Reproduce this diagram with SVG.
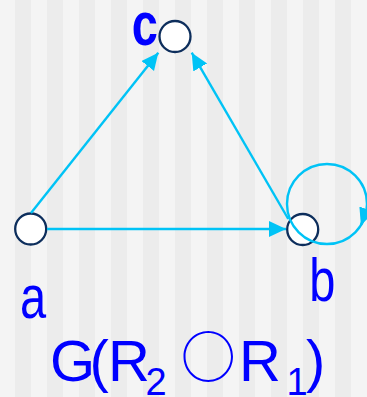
<svg xmlns="http://www.w3.org/2000/svg" width="367" height="397" viewBox="0 0 367 397">
<defs>
<pattern id="stripes" x="15" y="0" width="32" height="397" patternUnits="userSpaceOnUse">
<rect x="0" y="0" width="16" height="397" fill="#ececec"/>
</pattern>
<marker id="arr" markerUnits="userSpaceOnUse" markerWidth="18" markerHeight="17" refX="17" refY="8" orient="auto">
<path d="M0,0 L17,8 L0,16 Z" fill="#00c3f6"/>
</marker>
<style>
.node{fill:#ffffff;stroke:#0d2e5c;stroke-width:2.3}
.edge{fill:none;stroke:#00c3f6;stroke-width:2.4}
.lbl{font-family:"Liberation Sans",Arial,sans-serif;font-size:47px;fill:#0000ff}
.title{font-family:"Liberation Sans",Arial,sans-serif;font-size:58px;fill:#0000ff}
.sub{font-size:38px}
.op{font-family:"Noto Sans CJK JP","Noto Sans CJK SC",sans-serif;font-size:55px;fill:#0000ff}
</style>
</defs>
<rect x="0" y="0" width="367" height="397" fill="#f4f4f4"/>
<rect x="0" y="0" width="367" height="397" fill="url(#stripes)"/>
<g id="node-a"><circle class="node" cx="30.7" cy="229" r="15.5"/></g>
<g id="node-b"><circle class="node" cx="302.7" cy="229.5" r="15.5"/></g>
<g id="node-c"><circle class="node" cx="175" cy="36.5" r="15.5"/></g>
<g id="connectors">
<line class="edge" x1="47" y1="229" x2="286" y2="229" marker-end="url(#arr)"/>
<line class="edge" x1="31" y1="213" x2="158.3" y2="52.7" marker-end="url(#arr)"/>
<line class="edge" x1="288.3" y1="219" x2="191.7" y2="52.7" marker-end="url(#arr)"/>
<circle class="edge" cx="327" cy="204" r="40"/>
<path class="edge" d="M366.5,210.3 L360.9,225.2" marker-end="url(#arr)"/>
</g>
<g id="labels">
<text class="lbl" transform="translate(20,317.6) scale(1,1.3)">a</text>
<text class="lbl" transform="translate(309.2,301) scale(1,1.3)">b</text>
<text class="lbl" font-weight="bold" transform="translate(131.7,45.3) scale(1,1.3)">c</text>
<text class="title"><tspan x="50" y="381">G</tspan><tspan x="89.5" y="381">(</tspan><tspan x="108" y="381">R</tspan><tspan class="sub" x="145.6" y="395">2</tspan><tspan x="239" y="381">R</tspan><tspan class="sub" x="286.5" y="395">1</tspan><tspan x="306" y="381">)</tspan></text>
<text class="op" x="180.8" y="377.2">○</text>
</g>
</svg>
